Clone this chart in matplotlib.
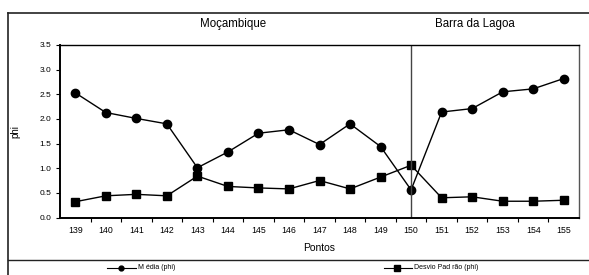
import matplotlib
matplotlib.use("Agg")
import matplotlib.pyplot as plt
from matplotlib.lines import Line2D

plt.rcParams['font.family'] = ['Liberation Sans', 'DejaVu Sans']

pontos = ["139", "140", "141", "142", "143", "144", "145", "146", "147",
          "148", "149", "150", "151", "152", "153", "154", "155"]
media = [2.53, 2.13, 2.01, 1.90, 1.01, 1.33, 1.71, 1.78, 1.48,
         1.90, 1.44, 0.56, 2.14, 2.21, 2.55, 2.61, 2.82]
desvio = [0.32, 0.44, 0.47, 0.44, 0.84, 0.63, 0.60, 0.58, 0.75,
          0.58, 0.82, 1.06, 0.40, 0.42, 0.33, 0.33, 0.35]
yticks = [0.0, 0.5, 1.0, 1.5, 2.0, 2.5, 3.0, 3.5]
divisor = "150"

W, H = 589, 275
fig = plt.figure(figsize=(W / 100, H / 100), dpi=100)

def fx(px):
    return px / W

def fy(py):
    return 1 - py / H

ax = fig.add_axes([fx(60), fy(217.5), fx(579) - fx(60), fy(45) - fy(217.5)])
x = list(range(len(pontos)))
ax.plot(x, media, color='black', lw=1, marker='o', ms=6, label='Média (phi)')
ax.plot(x, desvio, color='black', lw=1, marker='s', ms=6.2, label='Desvio Padrão (phi)')
ax.set_xlim(-0.5, len(pontos) - 0.5)
ax.set_ylim(0, 3.5)
ax.set_yticks(yticks)
ax.set_yticklabels([f"{v:.1f}" for v in yticks], fontsize=6)
ax.set_xticks(x)
ax.set_xticklabels(pontos, fontsize=6.3)
ax.set_xticks([i + 0.5 for i in x[:-1]], minor=True)
ax.tick_params(axis='x', which='major', length=0, pad=6)
ax.tick_params(axis='x', which='minor', length=3, width=0.8, direction='out')
ax.tick_params(axis='y', length=3, width=0.8, direction='out', pad=3)
ax.spines['left'].set_linewidth(1.4)
ax.spines['bottom'].set_linewidth(1.4)
ax.spines['top'].set_linewidth(1.0)
ax.spines['right'].set_color('#555555')
ax.spines['right'].set_linewidth(1.0)

xi = pontos.index(divisor)
ax.axvline(xi, color='#444444', lw=1.0)

ax.set_ylabel('phi', fontsize=7, labelpad=14)
ax.set_xlabel('Pontos', fontsize=7.5, labelpad=6)

fig.text(fx(233), fy(24), 'Moçambique', fontsize=8.3, ha='center', va='center')
fig.text(fx(475), fy(24), 'Barra da Lagoa', fontsize=8.3, ha='center', va='center')

# frame
fig.add_artist(Line2D([fx(8), fx(8)], [fy(12.5), fy(275)], color='#222222', lw=1.2))
fig.add_artist(Line2D([fx(8), fx(589)], [fy(12.5), fy(12.5)], color='#222222', lw=1.2))
fig.add_artist(Line2D([fx(8), fx(589)], [fy(260), fy(260)], color='#222222', lw=1.0))

# legend
fig.add_artist(Line2D([fx(107), fx(121), fx(136)], [fy(267.5)] * 3, color='black', lw=0.8,
                      marker='o', ms=3.5, markevery=[1]))
fig.text(fx(138), fy(267.5), 'M édia (phi)', fontsize=5, ha='left', va='center')
fig.add_artist(Line2D([fx(384), fx(397), fx(412)], [fy(267.5)] * 3, color='black', lw=0.8,
                      marker='s', ms=4, markevery=[1]))
fig.text(fx(414), fy(267.5), 'Desvio Pad rão (phi)', fontsize=5, ha='left', va='center')

fig.savefig('out.png', dpi=100)
